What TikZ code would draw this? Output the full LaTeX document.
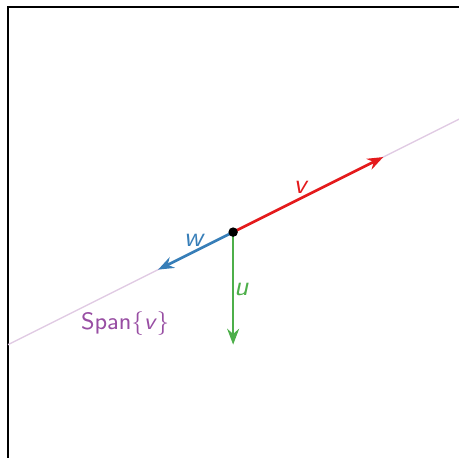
\documentclass[tikz,border=0pt]{standalone}
\usetikzlibrary{arrows.meta}
\definecolor{setred}{HTML}{E41A1C}
\definecolor{setblue}{HTML}{377EB8}
\definecolor{setgreen}{HTML}{4DAF4A}
\definecolor{setpurple}{HTML}{984EA3}
\begin{document}
\begin{tikzpicture}[
  vec/.style={line width=1pt,-{Stealth[length=6pt,width=4.5pt]}},
  lab/.style={font=\fontsize{10.5}{12}\selectfont\sffamily\itshape},
]
\useasboundingbox (-3.107,-3.01) rectangle (3.01,3.093);
\coordinate (bl) at (-3,-3.1);
\coordinate (tl) at (-3,3);
\coordinate (tr) at (3.1,3);
\draw[line width=0.8pt] (bl) -- (tl) -- (tr);
\coordinate (s1) at (-3,-1.5);
\coordinate (s2) at (3.05,1.525);
\draw[setpurple!30,line width=0.5pt] (s1) -- (s2);
\coordinate (o) at (0,0);
\coordinate (v) at (2,1);
\coordinate (w) at (-1,-0.5);
\coordinate (u) at (0,-1.5);
\draw[vec,setred] (o) -- (v);
\draw[vec,setblue] (o) -- (w);
\draw[vec,setgreen] (o) -- (u);
\node[lab,text=setred] (vl) at (0.89,0.6) {v};
\node[lab,text=setblue] (wl) at (-0.53,-0.11) {w};
\node[lab,text=setgreen] (ul) at (0.11,-0.77) {u};
\fill (o) circle (1.8pt);
\node[font=\fontsize{9}{11}\selectfont\sffamily,text=setpurple] (span) at (-1.44,-1.22) {Span\{\textit{v}\}};
\end{tikzpicture}
\end{document}
